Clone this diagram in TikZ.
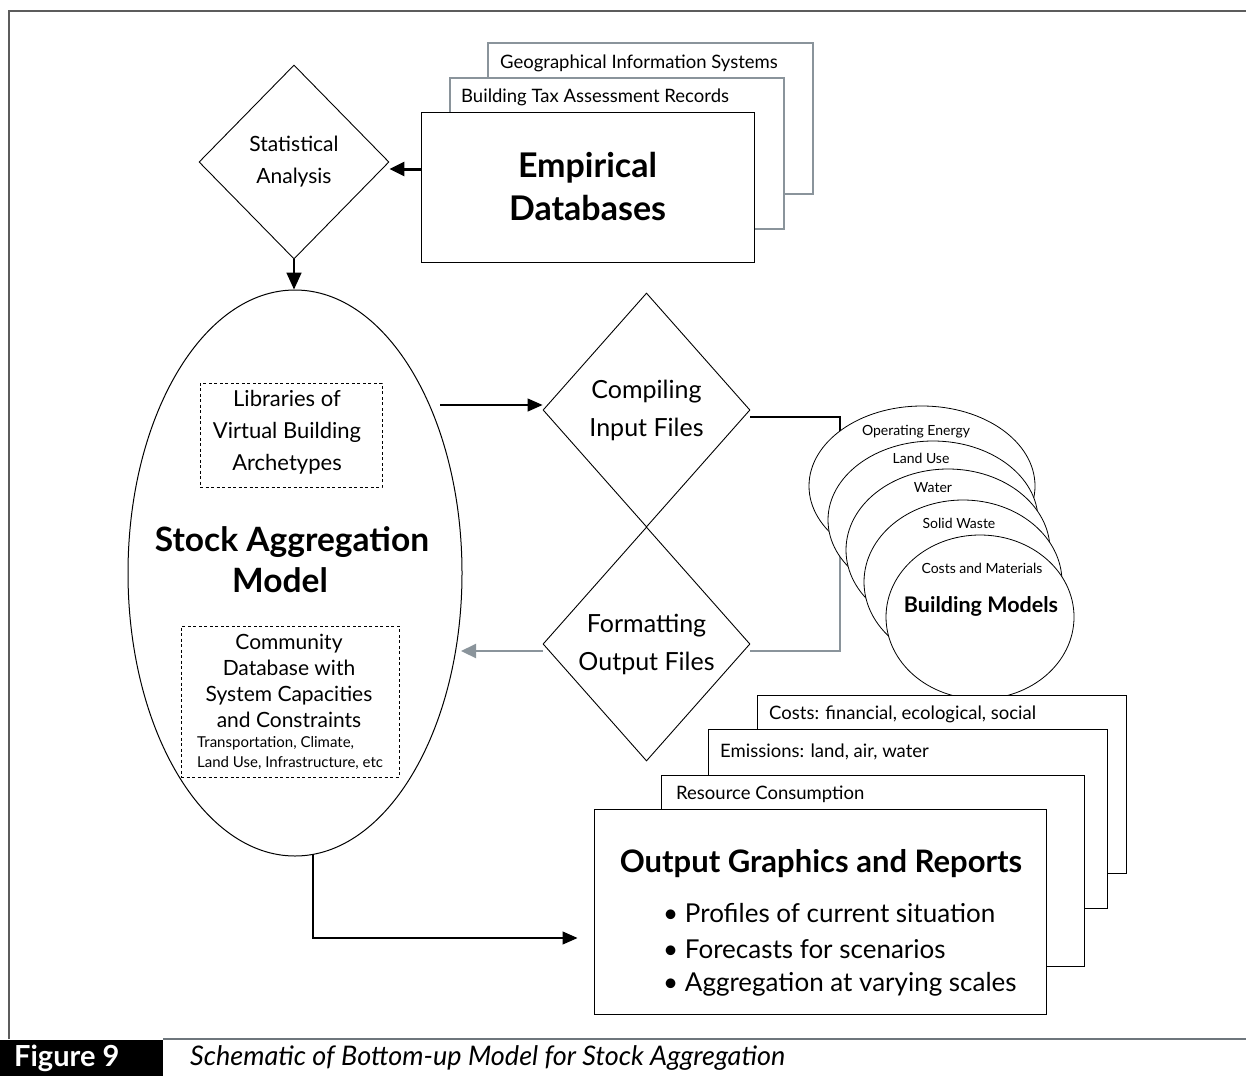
\documentclass[tikz,border=0pt]{standalone}
\usepackage{fontspec}
\setmainfont{Lato}
\usetikzlibrary{shapes.geometric,arrows.meta,calc}
\definecolor{gline}{HTML}{8A949B}
\definecolor{framec}{HTML}{5C5C5C}
\begin{document}
\begin{tikzpicture}[x=1pt,y=-1pt,
  conn/.style={line width=1.3pt, draw=black},
  gconn/.style={line width=2.2pt, draw=gline},
  tip/.style={-{Triangle[length=15pt,width=13pt]}},
  dia/.style={diamond, draw, line width=0.9pt, fill=white, inner sep=0pt, align=center},
  sbox/.style={draw, line width=1pt, fill=white, inner sep=0pt},
  gsbox/.style={draw=gline, line width=1.2pt, fill=white, inner sep=0pt},
  dbox/.style={draw, dash pattern=on 3pt off 2.5pt, line width=0.8pt, inner sep=0pt},
  bell/.style={ellipse, draw, line width=0.8pt, fill=white, inner sep=0pt},
  lbl/.style={inner sep=0pt, anchor=west},
  txt/.style={inner sep=0pt, align=center},
  f14/.style={font=\fontsize{14}{17}\selectfont},
  f18/.style={font=\fontsize{18.5}{22}\selectfont},
]
\useasboundingbox (0,0) rectangle (1246,1076);

% frame
\draw[framec, line width=2pt] (9,1039) -- (9,11) -- (1246,11);
\draw[gline!80!black, line width=1.5pt] (163,1039) -- (1246,1039);
\node[fill=black, minimum width=163pt, minimum height=36pt, anchor=north west, inner sep=0pt] (figtab) at (0,1040) {};
\node[lbl, text=white, font=\fontsize{29}{32}\selectfont\bfseries] (fignum) at (14,1058) {Figure 9};
\node[lbl, font=\fontsize{27}{30}\selectfont\itshape] (figcap) at (190,1058) {Schematic of Bottom-up Model for Stock Aggregation};

% hidden connectors behind building-model ellipses
\coordinate (j1) at (840,417);
\coordinate (j2) at (840,480);
\coordinate (j3) at (840,540);
\coordinate (j4) at (840,651);

% empirical stack
\node[gsbox, minimum width=325pt, minimum height=151pt] (geo) at (650.5,118.5) {};
\node[lbl, f18] (geot) at (500,63) {Geographical Information Systems};
\node[gsbox, minimum width=334pt, minimum height=151pt] (tax) at (617,153.5) {};
\node[lbl, f18] (taxt) at (461,97) {Building Tax Assessment Records};
\node[sbox, minimum width=333pt, minimum height=150pt, align=center,
      font=\fontsize{34}{43}\selectfont\bfseries] (emp) at (587.5,187) {Empirical\\Databases};

% statistical analysis
\node[dia, minimum width=190pt, minimum height=194pt, font=\fontsize{21}{32}\selectfont] (stat) at (294,162) {Statistical\\Analysis};

% stock aggregation model
\node[ellipse, draw, line width=1pt, minimum width=334pt, minimum height=566pt, inner sep=0pt] (stock) at (295,573) {};
\node[dbox, minimum width=182pt, minimum height=104pt] (lib) at (291,435) {};
\node[txt, font=\fontsize{22}{32}\selectfont] (libt) at (287,432) {Libraries of\\Virtual Building\\Archetypes};
\node[txt, font=\fontsize{33.5}{38}\selectfont\bfseries] (sam1) at (292,542) {Stock Aggregation};
\node[txt, font=\fontsize{33.5}{38}\selectfont\bfseries] (sam2) at (280,580) {Model};
\node[dbox, minimum width=218pt, minimum height=151pt] (comm) at (290,701.5) {};
\node[txt, font=\fontsize{21}{26}\selectfont] (commt) at (289,681) {Community\\Database with\\System Capacities\\and Constraints};
\node[lbl, font=\fontsize{15}{18}\selectfont] (commt2) at (197,743) {Transportation, Climate,};
\node[lbl, font=\fontsize{15}{18}\selectfont] (commt3) at (197,763) {Land Use, Infrastructure, etc};

% compiling / formatting
\node[dia, minimum width=207pt, minimum height=234pt, font=\fontsize{25}{38}\selectfont] (comp) at (646.5,410) {Compiling\\Input Files};
\node[dia, minimum width=207pt, minimum height=234pt, font=\fontsize{25}{38}\selectfont] (form) at (646.5,644) {Formatting\\Output Files};

% connectors (drawn before building ellipses so they pass behind)
\draw[conn] ([yshift=-7pt]comp.east) -- (j1) -- (j2);
\draw[gconn] ([yshift=-7pt]form.east) -- (j4) -- (j3);

% building models
\node[bell, minimum width=226pt, minimum height=160pt] (be1) at (922,486) {};
\node[bell, minimum width=210pt, minimum height=158pt] (be2) at (933,520) {};
\node[bell, minimum width=204pt, minimum height=162pt] (be3) at (948,550) {};
\node[bell, minimum width=198pt, minimum height=164pt] (be4) at (963,582) {};
\node[bell, minimum width=188pt, minimum height=164pt] (be5) at (980,617) {};
\node[txt, f14] (be1t) at (916,432) {Operating Energy};
\node[txt, f14] (be2t) at (921,458) {Land Use};
\node[txt, f14] (be3t) at (933,488) {Water};
\node[txt, f14] (be4t) at (959,523) {Solid Waste};
\node[txt, f14] (be5t) at (982,568) {Costs and Materials};
\node[txt, font=\fontsize{21.5}{24}\selectfont\bfseries] (be5b) at (981,606) {Building Models};

% output stack
\node[sbox, minimum width=369pt, minimum height=178pt] (ocost) at (941.5,784) {};
\node[lbl, f18] (ocostt) at (769,714) {Costs: financial, ecological, social};
\node[sbox, minimum width=399pt, minimum height=179pt] (oemis) at (907.5,818.5) {};
\node[lbl, f18] (oemist) at (720,752) {Emissions: land, air, water};
\node[sbox, minimum width=423pt, minimum height=191pt] (ores) at (872.5,870.5) {};
\node[lbl, f18] (orest) at (676,794) {Resource Consumption};
\node[sbox, minimum width=452pt, minimum height=205pt] (ofront) at (820,911.5) {};
\node[txt, font=\fontsize{31}{34}\selectfont\bfseries] (otitle) at (821,864) {Output Graphics and Reports};
\node[lbl, font=\fontsize{26}{30}\selectfont] (ob1) at (663,913) {\textbullet\ Profiles of current situation};
\node[lbl, font=\fontsize{26}{30}\selectfont] (ob2) at (663,949) {\textbullet\ Forecasts for scenarios};
\node[lbl, font=\fontsize{26}{30}\selectfont] (ob3) at (663,984) {\textbullet\ Aggregation at varying scales};

% arrows
\coordinate (ea) at (421,169);
\draw[line width=3pt, -{Triangle[length=15pt,width=14pt]}] (ea) -- (ea -| stat.east);
\draw[line width=1.8pt, -{Triangle[length=17pt,width=15pt]}] (stat.south) -- (stat.south |- stock.north);
\coordinate (la) at (440,405);
\draw[conn, tip] (la) -- (la -| comp.west);
\coordinate (ga) at (461,651);
\draw[gconn, -{Triangle[length=15pt,width=14pt]}, gline] ([yshift=-7pt]form.west) -- (ga);
\coordinate (b1) at (313,854);
\coordinate (b2) at (313,938);
\draw[conn, tip, shorten >=16pt] (b1) -- (b2) -- (b2 -| ofront.west);
\end{tikzpicture}
\end{document}
